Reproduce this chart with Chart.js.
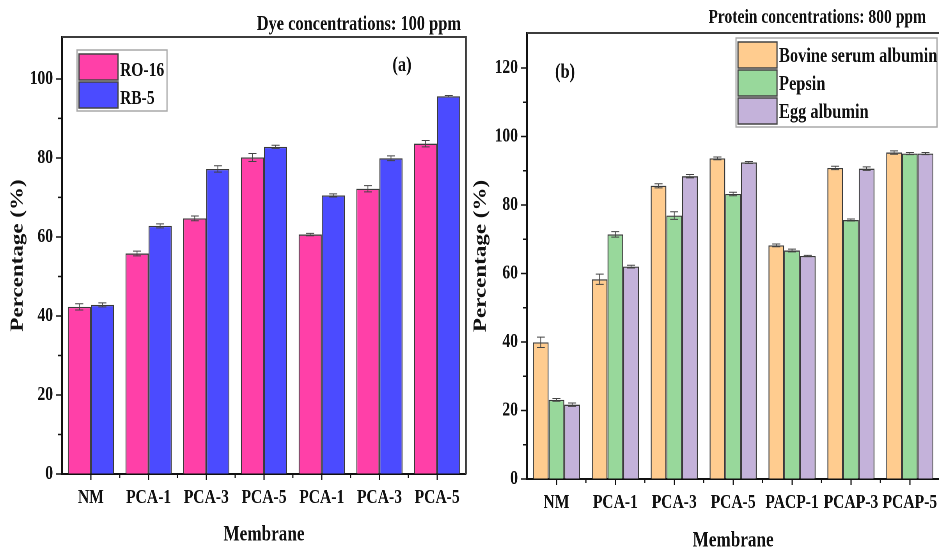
<!DOCTYPE html>
<html>
<head>
<meta charset="utf-8">
<script src="https://cdn.jsdelivr.net/npm/chart.js@4.4.1/dist/chart.umd.min.js"></script>
<style>
  html, body { margin: 0; padding: 0; background: #fff; }
  #wrap { position: relative; width: 939px; height: 552px; overflow: hidden; background: #fff; }
  .panel { position: absolute; top: 0; transform-origin: 0 0; }
</style>
</head>
<body>
<div id="wrap">
  <div class="panel" id="panelA"><canvas id="dyeChart"></canvas></div>
  <div class="panel" id="panelB"><canvas id="proteinChart"></canvas></div>
</div>
<script>
// ---- Data: dye rejection (100 ppm) ----
const dyeMembranes = ['NM', 'PCA-1', 'PCA-3', 'PCA-5', 'PCA-1', 'PCA-3', 'PCA-5'];
const ro16 = [42.3, 55.8, 64.7, 80.1, 60.6, 72.2, 83.6];
const ro16Err = [0.8, 0.6, 0.6, 1.0, 0.3, 0.8, 0.8];
const rb5 = [42.8, 62.8, 77.2, 82.8, 70.5, 79.9, 95.6];
const rb5Err = [0.5, 0.5, 0.8, 0.4, 0.4, 0.6, 0.2];
const dyeTicks = [0, 20, 40, 60, 80, 100];

// ---- Data: protein rejection (800 ppm) ----
const proteinMembranes = ['NM', 'PCA-1', 'PCA-3', 'PCA-5', 'PACP-1', 'PCAP-3', 'PCAP-5'];
const bsa = [39.9, 58.3, 85.6, 93.6, 68.2, 90.8, 95.3];
const bsaErr = [1.5, 1.5, 0.6, 0.4, 0.4, 0.5, 0.5];
const pepsin = [23.1, 71.4, 76.9, 83.2, 66.7, 75.6, 95.0];
const pepsinErr = [0.4, 0.8, 1.1, 0.5, 0.4, 0.3, 0.3];
const eggAlbumin = [21.7, 62.0, 88.4, 92.4, 65.1, 90.6, 95.0];
const eggErr = [0.5, 0.4, 0.5, 0.3, 0.2, 0.5, 0.3];
const proteinTicks = [0, 20, 40, 60, 80, 100, 120];

// Each panel is drawn wide and condensed horizontally (Times-like condensed lettering).
const S = 0.78;
const ix = v => v / S;   // on-screen horizontal px -> canvas px

Chart.defaults.font.family = "'Liberation Serif', 'Times New Roman', serif";
Chart.defaults.font.weight = 'bold';
Chart.defaults.color = '#111';

// Error bars drawn from each dataset's `errors` array
const errorBars = {
  id: 'errorBars',
  afterDatasetsDraw(chart, args, o) {
    const { ctx } = chart;
    const y = chart.scales.y;
    ctx.save();
    ctx.strokeStyle = o.color;
    ctx.lineWidth = o.width;
    chart.data.datasets.forEach((ds, i) => {
      chart.getDatasetMeta(i).data.forEach((bar, j) => {
        const v = ds.data[j], e = ds.errors[j];
        const yt = y.getPixelForValue(v + e), yb = y.getPixelForValue(v - e);
        const x = bar.x, c = o.cap;
        ctx.beginPath();
        ctx.moveTo(x, yt); ctx.lineTo(x, yb);
        ctx.moveTo(x - c, yt); ctx.lineTo(x + c, yt);
        ctx.moveTo(x - c, yb); ctx.lineTo(x + c, yb);
        ctx.stroke();
      });
    });
    ctx.restore();
  }
};

// Frame, minor ticks, legend box, heading and panel tag
const panelDecor = {
  id: 'panelDecor',
  afterDraw(chart, args, o) {
    const { ctx, chartArea: a } = chart;
    const xs = chart.scales.x, ys = chart.scales.y;
    ctx.save();

    // top (and optionally right) frame
    ctx.strokeStyle = '#3c3c3c';
    ctx.lineWidth = 2;
    ctx.beginPath();
    ctx.moveTo(a.left, a.top);
    ctx.lineTo(a.right, a.top);
    if (o.rightEdge) ctx.lineTo(a.right, a.bottom);
    ctx.stroke();

    // minor ticks
    ctx.strokeStyle = '#111';
    ctx.lineWidth = 1.5;
    ctx.beginPath();
    const t = ys.ticks.map(k => k.value);
    const half = (t[1] - t[0]) / 2;
    for (let v = t[0] + half; v < ys.max - 1; v += 2 * half) {
      const py = ys.getPixelForValue(v);
      ctx.moveTo(a.left - ix(4), py); ctx.lineTo(a.left, py);
    }
    const n = chart.data.labels.length;
    for (let i = 0; i < n - 1; i++) {
      const px = (xs.getPixelForValue(i) + xs.getPixelForValue(i + 1)) / 2;
      ctx.moveTo(px, a.bottom); ctx.lineTo(px, a.bottom + 4);
    }
    ctx.stroke();

    // legend
    const L = o.legend;
    ctx.fillStyle = '#fff';
    ctx.fillRect(ix(L.x), L.y, ix(L.w), L.h);
    ctx.strokeStyle = '#a8a8a8';
    ctx.lineWidth = 1.5;
    ctx.strokeRect(ix(L.x), L.y, ix(L.w), L.h);
    ctx.font = `bold ${L.size}px 'Liberation Serif', 'Times New Roman', serif`;
    ctx.textAlign = 'left';
    ctx.textBaseline = 'alphabetic';
    chart.data.datasets.forEach((ds, i) => {
      const sy = L.rowY + i * L.rowStep;
      ctx.fillStyle = ds.backgroundColor;
      ctx.fillRect(ix(L.swX), sy, ix(L.swW), L.swH);
      ctx.strokeStyle = '#444';
      ctx.lineWidth = 1.5;
      ctx.strokeRect(ix(L.swX), sy, ix(L.swW), L.swH);
      ctx.fillStyle = '#111';
      ctx.fillText(ds.label, ix(L.swX + L.swW + 2), sy + L.textDy);
    });

    // heading and panel tag
    ctx.font = `bold ${o.heading.size}px 'Liberation Serif', 'Times New Roman', serif`;
    ctx.textAlign = 'right';
    ctx.fillText(o.heading.text, ix(o.heading.x), o.heading.y);
    ctx.font = `bold ${o.tag.size}px 'Liberation Serif', 'Times New Roman', serif`;
    ctx.textAlign = 'center';
    ctx.fillText(o.tag.text, ix(o.tag.x), o.tag.y);
    ctx.restore();
  }
};

function buildChart(canvasId, panelId, panelLeft, cssWidth, labels, datasets, yTicks, yMax, look) {
  const panel = document.getElementById(panelId);
  const w = Math.round(ix(cssWidth));
  panel.style.left = panelLeft + 'px';
  panel.style.width = w + 'px';
  panel.style.height = '552px';
  panel.style.transform = `scaleX(${S})`;
  const canvas = document.getElementById(canvasId);
  canvas.width = w;
  canvas.height = 552;
  return new Chart(canvas, {
    type: 'bar',
    data: { labels, datasets },
    plugins: [errorBars, panelDecor],
    options: {
      responsive: false,
      animation: false,
      devicePixelRatio: 2,
      layout: { padding: { top: look.top, right: w - ix(look.plotRight), left: 0, bottom: 0 }, autoPadding: false },
      datasets: {
        bar: { categoryPercentage: 0.8, barPercentage: 1.0, borderWidth: 1.3, borderColor: '#3a3a3a' }
      },
      plugins: {
        legend: { display: false },
        tooltip: { enabled: false },
        errorBars: { color: '#444', width: 1, cap: ix(4) },
        panelDecor: look.decor
      },
      scales: {
        x: {
          offset: true,
          grid: { offset: false, drawOnChartArea: false, tickLength: 6, tickWidth: 1.5, tickColor: '#111' },
          border: { color: '#111', width: 2 },
          ticks: { color: '#111', font: { size: 20, weight: 'bold' }, padding: 6, maxRotation: 0, autoSkip: false },
          title: { display: true, text: 'Membrane', color: '#111',
                   font: { size: 22, weight: 'bold', lineHeight: 1 }, padding: { top: 0, bottom: look.xTitlePad } },
          afterFit: s => { s.height = look.xHeight; }
        },
        y: {
          min: 0,
          max: yMax,
          afterBuildTicks: s => { s.ticks = yTicks.map(v => ({ value: v })); },
          grid: { drawOnChartArea: false, tickLength: ix(6), tickWidth: 1.5, tickColor: '#111' },
          border: { color: '#111', width: 2 },
          ticks: { color: '#111', font: { size: 20, weight: 'bold' }, padding: ix(3) },
          title: { display: true, text: 'Percentage (%)', color: '#111',
                   font: { size: 23, weight: 'bold', lineHeight: 1 }, padding: { top: look.yTitlePad, bottom: 0 } },
          afterFit: s => { s.width = ix(look.plotLeft); }
        }
      }
    }
  });
}

buildChart('dyeChart', 'panelA', 0, 470, dyeMembranes, [
  { label: 'RO-16', data: ro16, errors: ro16Err, backgroundColor: '#ff40a8' },
  { label: 'RB-5', data: rb5, errors: rb5Err, backgroundColor: '#4b4bff' }
], dyeTicks, 110.6, {
  top: 37, plotLeft: 62, plotRight: 466, xHeight: 78, xTitlePad: 6, yTitlePad: ix(18) - 11.5,
  decor: {
    rightEdge: true,
    legend: { x: 77, y: 50, w: 90, h: 61, swX: 79, swW: 39, swH: 26, rowY: 54, rowStep: 28, textDy: 22, size: 20 },
    heading: { text: 'Dye concentrations: 100 ppm', x: 461, y: 30, size: 21 },
    tag: { text: '(a)', x: 402, y: 71, size: 21 }
  }
});

buildChart('proteinChart', 'panelB', 470, 472, proteinMembranes, [
  { label: 'Bovine serum albumin', data: bsa, errors: bsaErr, backgroundColor: '#ffcc8f' },
  { label: 'Pepsin', data: pepsin, errors: pepsinErr, backgroundColor: '#98d89b' },
  { label: 'Egg albumin', data: eggAlbumin, errors: eggErr, backgroundColor: '#c4b2da' }
], proteinTicks, 130.2, {
  top: 33, plotLeft: 57, plotRight: 470, xHeight: 73, xTitlePad: 0, yTitlePad: ix(11) - 11.5,
  decor: {
    rightEdge: false,
    legend: { x: 266, y: 38, w: 201, h: 89, swX: 268, swW: 39, swH: 26, rowY: 42, rowStep: 28, textDy: 20, size: 21 },
    heading: { text: 'Protein concentrations: 800 ppm', x: 456, y: 23, size: 20 },
    tag: { text: '(b)', x: 95, y: 78, size: 21 }
  }
});
</script>
</body>
</html>
